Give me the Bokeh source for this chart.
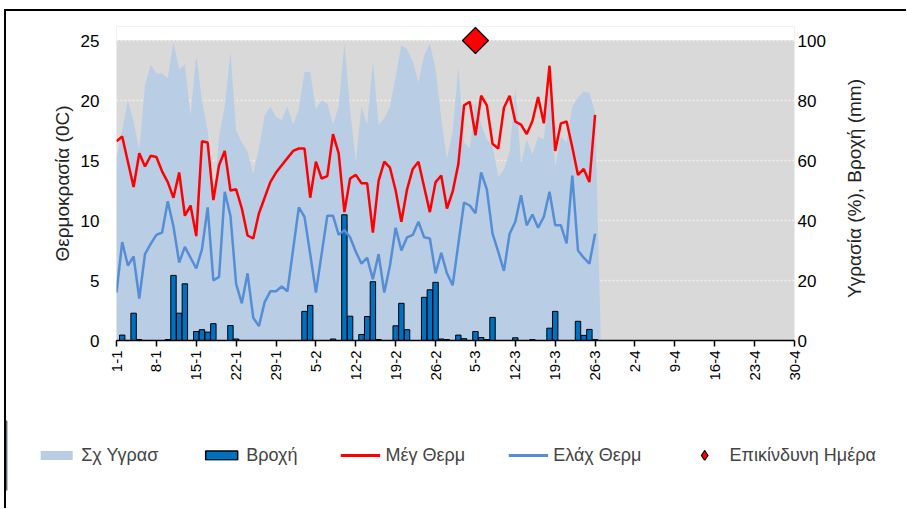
import math
from bokeh.plotting import figure
from bokeh.layouts import column
from bokeh.models import (Range1d, LinearAxis, FixedTicker, Legend, LegendItem,
                          BoxAnnotation, Label)
from bokeh.embed import file_html
from bokeh.resources import INLINE

# ---------------- data ----------------
tick_days = [0, 7, 14, 21, 28, 35, 42, 49, 56, 63, 70, 77, 84, 91, 98, 105, 112, 119]
tick_labels = ["1-1", "8-1", "15-1", "22-1", "29-1", "5-2", "12-2", "19-2", "26-2",
               "5-3", "12-3", "19-3", "26-3", "2-4", "9-4", "16-4", "23-4", "30-4"]

# relative humidity (%), one value per day from 1-1
humidity = [61, 70, 80, 73, 63.5, 85, 92, 89, 89, 87.5,
            99.5, 90.5, 92, 75, 95, 80, 70, 45, 68, 78,
            96, 70, 66, 63, 55.5, 64, 75, 78, 74.5, 73.5,
            78, 72, 77, 89.5, 89.5, 77, 80, 79, 72, 78,
            99, 77, 59.5, 78, 72, 93, 72, 74, 78, 88,
            98.5, 97, 93, 86, 95, 99, 90.5, 74, 60.5, 69.5,
            91, 66, 64, 79, 72, 67, 65, 54.5, 57, 63,
            84, 59, 67, 62, 68, 67, 85, 58, 68, 66,
            78, 81, 83, 82.5, 76, 0]

# rain (mm)
rain = [0, 1.8, 0, 9.1, 0.3, 0, 0, 0, 0, 0.3,
        21.7, 9.1, 18.9, 0, 3.0, 3.6, 2.8, 5.6, 0, 0,
        5.0, 0.5, 0, 0, 0, 0, 0, 0, 0, 0,
        0, 0, 0, 9.7, 11.7, 0, 0, 0, 0.5, 0,
        41.9, 8.1, 0, 2.0, 8.0, 19.6, 0.3, 0, 0, 4.9,
        12.4, 3.6, 0, 0, 14.4, 16.9, 19.4, 0.5, 0.3, 0,
        1.8, 0.6, 0, 3.0, 1.0, 0.3, 7.7, 0, 0, 0,
        0.9, 0, 0, 0.3, 0, 0, 4.1, 9.7, 0, 0,
        0, 6.4, 1.7, 3.7, 0.3]

# max temperature (C)
tmax = [16.6, 17.0, 14.9, 12.8, 15.6, 14.5, 15.4, 15.3, 14.1, 13.2,
        11.9, 14.0, 10.4, 11.25, 8.7, 16.6, 16.5, 11.7, 14.6, 15.8,
        12.5, 12.6, 11.0, 8.75, 8.5, 10.6, 11.9, 13.2, 14.0, 14.6,
        15.2, 15.8, 16.0, 16.0, 11.9, 14.9, 13.5, 13.7, 17.2, 15.6,
        10.7, 13.5, 13.8, 13.1, 13.1, 9.0, 13.3, 14.9, 14.4, 12.5,
        9.9, 12.6, 14.3, 14.9, 12.8, 10.7, 13.2, 13.75, 11.0, 12.4,
        14.7, 19.6, 19.9, 17.1, 20.4, 19.6, 16.4, 16.0, 19.4, 20.4,
        18.25, 18.0, 17.2, 18.3, 20.3, 18.1, 22.9, 15.8, 18.1, 18.25,
        16.1, 13.8, 14.3, 13.2, 18.8]

# min temperature (C)
tmin = [4.0, 8.2, 6.25, 7.0, 3.5, 7.2, 8.05, 8.8, 9.0, 11.6,
        9.5, 6.5, 7.8, 6.9, 6.0, 7.6, 11.1, 5.0, 5.3, 12.4,
        10.4, 4.7, 3.1, 5.6, 1.9, 1.2, 3.2, 4.1, 4.1, 4.5,
        4.1, 7.6, 11.1, 10.3, 7.2, 4.0, 7.2, 10.4, 10.4, 8.8,
        9.2, 8.6, 7.4, 6.4, 6.9, 5.1, 7.2, 4.0, 6.25, 9.4,
        7.5, 8.6, 8.8, 9.9, 8.6, 8.5, 5.6, 7.3, 5.6, 4.6,
        8.05, 11.5, 11.25, 10.6, 14.0, 12.6, 8.9, 7.4, 5.8, 8.9,
        9.9, 12.1, 9.6, 10.5, 9.4, 10.3, 12.4, 9.6, 9.6, 8.1,
        13.75, 7.5, 6.9, 6.4, 8.9]

# dangerous day marker (day index from 1-1, value on right axis)
danger_days = [63]
danger_level = [100]

days = list(range(len(tmax)))
hum_days = list(range(len(humidity)))

FONT = "Liberation Sans"
AREA_C = "#B9CDE5"
BAR_C = "#0070C0"
RED_C = "#FF0000"
BLUE_C = "#558ED5"

p = figure(width=900, height=409, output_backend="svg", toolbar_location=None,
           x_range=Range1d(0, 119), y_range=Range1d(0, 26.17),
           min_border_left=110, min_border_right=112, min_border_top=15,
           min_border_bottom=80)
p.extra_y_ranges = {"right": Range1d(0, 104.67)}
p.background_fill_color = "#D9D9D9"
p.border_fill_color = "white"
p.outline_line_color = None

top_cover = BoxAnnotation(bottom=25.04, fill_color="white", fill_alpha=1,
                          line_alpha=0, level="underlay")
p.add_layout(top_cover)

p.xgrid.visible = False
p.ygrid.ticker = FixedTicker(ticks=[5, 10, 15, 20, 25])
p.ygrid.grid_line_color = "#F2F0E6"
p.ygrid.grid_line_dash = "2 2"
p.ygrid.grid_line_width = 1.5

# x axis
xa = p.xaxis[0]
xa.ticker = FixedTicker(ticks=tick_days)
xa.major_label_overrides = {d: l for d, l in zip(tick_days, tick_labels)}
xa.major_label_orientation = math.pi / 2
xa.major_label_text_font = FONT
xa.major_label_text_font_size = "15px"
xa.major_label_text_color = "black"
xa.axis_line_color = "black"
xa.axis_line_width = 1.5
xa.major_tick_line_color = "black"
xa.major_tick_line_width = 1.5
xa.major_tick_out = 6
xa.major_tick_in = 0
xa.minor_tick_line_color = None
xa.major_label_standoff = 4

# left axis
ya = p.yaxis[0]
ya.ticker = FixedTicker(ticks=[0, 5, 10, 15, 20, 25])
ya.axis_line_color = None
ya.major_tick_line_color = None
ya.minor_tick_line_color = None
ya.major_tick_out = 0
ya.major_tick_in = 0
ya.major_label_text_font = FONT
ya.major_label_text_font_size = "17px"
ya.major_label_text_color = "black"
ya.major_label_standoff = 17
ya.axis_label = "Θερμοκρασία (0C)"
ya.axis_label_text_font = FONT
ya.axis_label_text_font_size = "19px"
ya.axis_label_text_font_style = "normal"
ya.axis_label_text_color = "#222222"
ya.axis_label_standoff = 5

# right axis
ra = LinearAxis(y_range_name="right", ticker=FixedTicker(ticks=[0, 20, 40, 60, 80, 100]))
ra.axis_line_color = None
ra.major_tick_line_color = None
ra.minor_tick_line_color = None
ra.major_tick_out = 0
ra.major_tick_in = 0
ra.major_label_text_font = FONT
ra.major_label_text_font_size = "17px"
ra.major_label_text_color = "black"
ra.major_label_standoff = 3
p.add_layout(ra, "right")

right_title = Label(x=26, y=152, x_units="screen", y_units="screen",
                    text="Υγρασία (%), Βροχή (mm)", angle=math.pi / 2,
                    text_align="center", text_baseline="middle",
                    text_font=FONT, text_font_size="19px", text_color="#222222")
p.add_layout(right_title, "right")

# glyphs
p.varea(x=hum_days, y1=0, y2=humidity, y_range_name="right", fill_color=AREA_C)
p.vbar(x=days, top=rain, bottom=0, width=0.95, y_range_name="right",
       fill_color=BAR_C, line_color="black", line_width=1)
p.line(days, tmin, line_color=BLUE_C, line_width=2.5)
p.line(days, tmax, line_color=RED_C, line_width=2.5)
p.scatter(x=danger_days, y=danger_level, y_range_name="right", marker="square",
          size=18.4, angle=math.pi / 4, fill_color=RED_C, line_color="black",
          line_width=1.2)

# ---------------- legend strip ----------------
q = figure(width=900, height=88, output_backend="svg", toolbar_location=None,
           x_range=Range1d(0, 1), y_range=Range1d(0, 1),
           x_axis_location=None, y_axis_location=None,
           min_border_left=0, min_border_right=0, min_border_top=0,
           min_border_bottom=18)
q.xgrid.visible = False
q.ygrid.visible = False
q.outline_line_color = None
q.background_fill_color = "white"
q.border_fill_color = "white"
for fig in (p, q):
    try:
        fig.frame_align = False
    except AttributeError:
        pass

OFF = [-1000, -999]
l_area = q.varea(x=OFF, y1=[0, 0], y2=[1, 1], fill_color=AREA_C)
l_bar = q.vbar(x=OFF[:1], top=[1], width=1, fill_color=BAR_C, line_color="black",
               line_width=1.5)
l_red = q.line(x=OFF, y=[0, 0], line_color=RED_C, line_width=3)
l_blue = q.line(x=OFF, y=[0, 0], line_color=BLUE_C, line_width=3)
dia_out = q.scatter(x=OFF[:1], y=[0], marker="diamond", size=4,
                    fill_color="black", line_color="black", line_width=4.2,
                    line_join="miter")
dia_in = q.scatter(x=OFF[:1], y=[0], marker="diamond", size=4,
                   fill_color=RED_C, line_color=RED_C, line_width=2,
                   line_join="miter")

legend = Legend(items=[LegendItem(label="Σχ Υγρασ", renderers=[l_area]),
                       LegendItem(label="Βροχή", renderers=[l_bar]),
                       LegendItem(label="Μέγ Θερμ", renderers=[l_red]),
                       LegendItem(label="Ελάχ Θερμ", renderers=[l_blue]),
                       LegendItem(label="Επικίνδυνη Ημέρα", renderers=[dia_out, dia_in])],
                location="center", orientation="horizontal",
                glyph_width=40, glyph_height=11, label_height=11,
                label_standoff=5, spacing=43, padding=0, margin=0,
                border_line_alpha=0, background_fill_alpha=0,
                label_text_font=FONT, label_text_font_size="18px")
q.add_layout(legend)

layout = column(p, q, spacing=0)
layout.styles = {"margin-left": "4px", "margin-top": "9px",
                 "border-left": "2px solid black", "border-top": "2px solid black"}

open("out.html", "w").write(file_html(layout, INLINE))
